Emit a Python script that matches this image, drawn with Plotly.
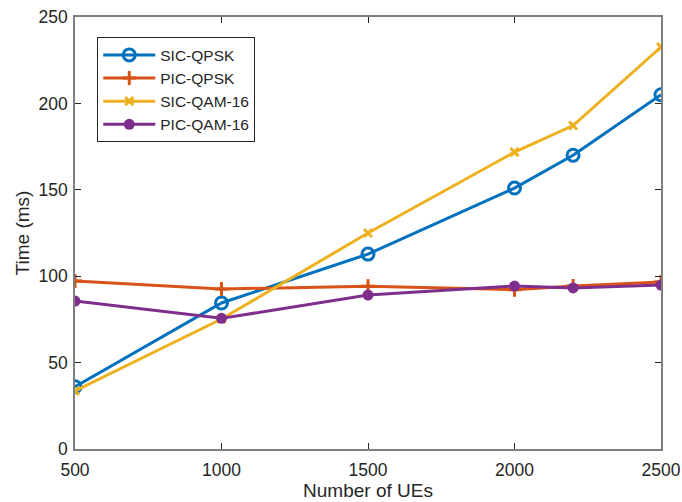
import plotly.graph_objects as go

# Number of UEs and processing time (ms) for each detector / modulation
ues = [500, 1000, 1500, 2000, 2200, 2500]
sic_qpsk = [36, 84.5, 112.8, 151, 170, 205]
pic_qpsk = [97.2, 92.6, 94.2, 92.2, 94.3, 96.6]
sic_qam16 = [33.6, 75.2, 125, 171.8, 187.2, 232.6]
pic_qam16 = [85.6, 75.6, 89.1, 94.3, 93.2, 94.9]

x_ticks = [500, 1000, 1500, 2000, 2500]
y_ticks = [0, 50, 100, 150, 200, 250]

series = [
    ("SIC-QPSK", sic_qpsk, "#0072BD", dict(symbol="circle-open", size=12, line=dict(width=3, color="#0072BD"))),
    ("PIC-QPSK", pic_qpsk, "#D95319", dict(symbol="cross-thin-open", size=10, line=dict(width=3, color="#D95319"))),
    ("SIC-QAM-16", sic_qam16, "#EDB120", dict(symbol="x-thin-open", size=8, line=dict(width=3, color="#EDB120"))),
    ("PIC-QAM-16", pic_qam16, "#7E2F8E", dict(symbol="circle", size=11, color="#7E2F8E", line=dict(width=0))),
]

fig = go.Figure()
for name, vals, color, marker in series:
    fig.add_trace(go.Scatter(
        x=ues, y=vals, name=name, mode="lines+markers",
        line=dict(color=color, width=3), marker=marker,
    ))

FONT = "Liberation Sans, Arial, sans-serif"
axis_common = dict(
    showline=True, linecolor="#7f7f7f", linewidth=1.5, mirror="ticks",
    ticks="inside", ticklen=6, tickcolor="#262626", tickwidth=1,
    showgrid=False, zeroline=False, automargin=False,
    tickfont=dict(family=FONT, size=17.5, color="#262626"),
)

fig.update_layout(
    width=682, height=502,
    margin=dict(l=75, r=21, t=17, b=53),
    paper_bgcolor="white", plot_bgcolor="white",
    font=dict(family=FONT, color="#262626"),
    xaxis=dict(range=[500, 2500], tickvals=x_ticks, ticklabelstandoff=4,
               title=dict(text="Number of UEs", font=dict(size=19), standoff=4),
               **axis_common),
    yaxis=dict(range=[0, 250], tickvals=y_ticks, ticklabelstandoff=2,
               title=dict(text="Time (ms)", font=dict(size=19), standoff=4),
               **axis_common),
    legend=dict(
        x=0.038, y=0.953, xanchor="left", yanchor="top",
        bgcolor="white", bordercolor="#262626", borderwidth=1,
        font=dict(size=15.5, color="#262626"),
        tracegroupgap=0, itemwidth=52,
    ),
)

fig.write_html("out.html")
